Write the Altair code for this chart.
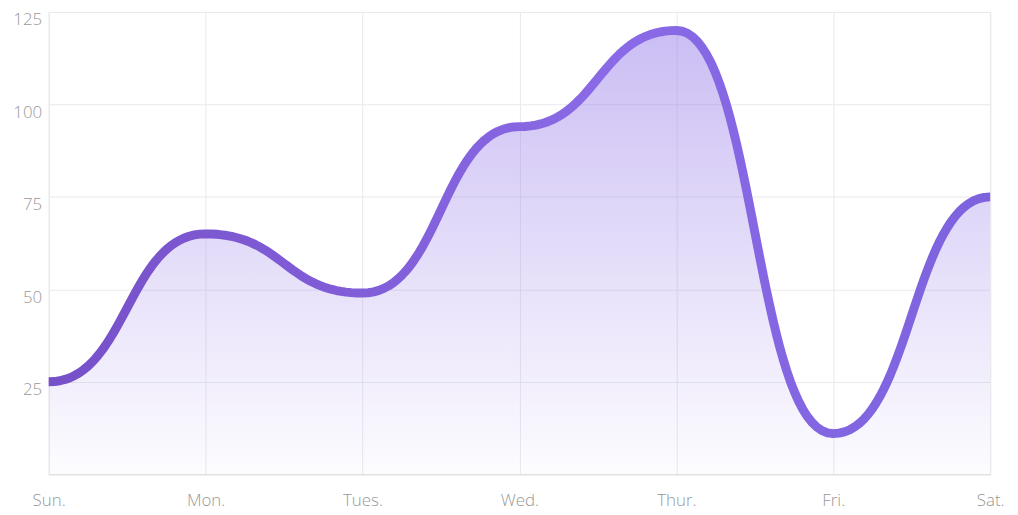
import json
import altair as alt
import pandas as pd

days = ["Sun.", "Mon.", "Tues.", "Wed.", "Thur.", "Fri.", "Sat."]
values = [25, 65, 49, 94, 120, 11, 75]
y_ticks = [25, 50, 75, 100, 125]

df = pd.DataFrame({"idx": list(range(len(days))), "day": days, "value": values})

label_expr = json.dumps(days) + "[datum.value]"

x = alt.X("xx:Q", scale=alt.Scale(domain=[0, len(days) - 1], nice=False, zero=False),
          axis=alt.Axis(title=None, values=list(range(len(days))), labelExpr=label_expr,
                        ticks=False, domain=True, domainColor="#dddddd", labelFlush=False,
                        grid=True, gridColor="#e9e9ee", labelPadding=18, labelFontSize=17,
                        labelColor="#999999", labelFont="Open Sans", labelFontWeight=300))
y = alt.Y("yy:Q", stack=None, scale=alt.Scale(domain=[0, 125], nice=False, zero=True),
          axis=alt.Axis(title=None, values=y_ticks, ticks=False, domain=False, grid=True,
                        labelFlush=False, labelBaseline="middle",
                        gridColor="#e9e9ee", labelPadding=7, labelFontSize=17, labelOffset=8,
                        labelColor="#999999", labelFont="Open Sans", labelFontWeight=300))

# smooth "bump" curve through the data points (horizontal tangents at each point)
base = alt.Chart(df).transform_window(
    nv="lead(value)", sort=[alt.SortField("idx")]
).transform_filter(
    "isValid(datum.nv)"
).transform_calculate(
    ts="sequence(0, 1.0001, 0.025)"
).transform_flatten(
    ["ts"], ["t"]
).transform_calculate(
    u="1 - datum.t"
).transform_calculate(
    xx="datum.idx + 1.5 * datum.u * datum.t + pow(datum.t, 3)",
    yy="datum.value * (pow(datum.u, 3) + 3 * datum.u * datum.u * datum.t)"
       " + datum.nv * (3 * datum.u * datum.t * datum.t + pow(datum.t, 3))",
)

area = base.mark_area(
    clip=True,
    color=alt.Gradient(gradient="linear", x1=0, x2=0, y1=0, y2=1,
                       stops=[alt.GradientStop(offset=0, color="rgba(140,110,230,0.45)"),
                              alt.GradientStop(offset=1, color="rgba(140,110,230,0.02)")])
).encode(x=x, y=y)

line = base.mark_line(
    clip=True, strokeWidth=9, strokeCap="round", strokeJoin="round",
    color=alt.Gradient(gradient="linear", x1=0, x2=1, y1=0, y2=0,
                       stops=[alt.GradientStop(offset=0, color="#7650c8"),
                              alt.GradientStop(offset=0.6, color="#8a6ae6"),
                              alt.GradientStop(offset=1, color="#7d62de")])
).encode(x=x, y=y)

chart = alt.layer(area, line).properties(
    width=949, height=466,
    autosize=alt.AutoSizeParams(type="none"),
    padding={"left": 41, "top": 2, "right": 20, "bottom": 34},
).configure_view(stroke="#e6e6e6", strokeWidth=1)

chart.save("out.html", embed_options={"renderer": "svg", "actions": False})
